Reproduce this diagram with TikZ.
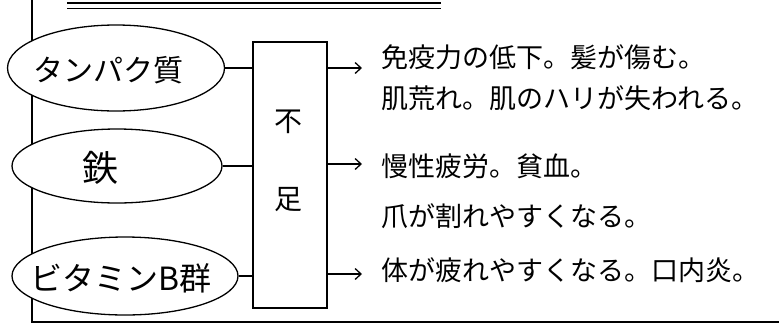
\documentclass[tikz,border=0pt]{standalone}
\usepackage{fontspec}
\newfontfamily\cjk{Noto Sans CJK JP}
\usetikzlibrary{shapes.geometric,arrows.meta}
\begin{document}
\begin{tikzpicture}[x=1pt,y=-1pt,
  line width=1.3pt,
  item/.style={draw,fill=white,ellipse,inner sep=0pt},
  lbl/.style={inner sep=0pt,font=\cjk\fontsize{30}{32}\selectfont},
  effect/.style={anchor=west,inner sep=0pt,font=\cjk\fontsize{27}{30}\selectfont},
  lack/.style={inner sep=0pt,font=\cjk\fontsize{28}{30}\selectfont},
  arr/.style={-{Straight Barb[length=6pt,width=11pt]}}]
\useasboundingbox (0,0) rectangle (779,325);
% frame
\draw[line width=1.8pt] (32,0) -- (32,322) -- (779,322);
\draw (67,3) -- (441,3);
\draw (67,8.5) -- (441,8.5);
% items
\node[item,minimum width=217pt,minimum height=86pt] (e1) at (116,68) {};
\node[lbl] (l1) at (108,70) {タンパク質};
\node[item,minimum width=210pt,minimum height=74pt] (e2) at (117,166) {};
\node[lbl,font=\cjk\fontsize{36}{38}\selectfont] (l2) at (100,168) {鉄};
\node[item,minimum width=226pt,minimum height=78pt] (e3) at (125,276) {};
\node[lbl,font=\cjk\fontsize{32}{34}\selectfont] (l3) at (121,278) {ビタミンB群};
% box
\node[draw,minimum width=74pt,minimum height=266pt,inner sep=0pt] (box) at (290,175) {};
\node[lack] (k1) at (288,122) {不};
\node[lack] (k2) at (288,200) {足};
% connectors
\draw (e1.east) -- (e1.east -| box.west);
\draw (e2.east) -- (e2.east -| box.west);
\draw (e3.east) -- (e3.east -| box.west);
\coordinate (a1) at (362,68);
\coordinate (a2) at (362,164);
\coordinate (a3) at (362,274);
\draw[arr] (box.east |- a1) -- (a1);
\draw[arr] (box.east |- a2) -- (a2);
\draw[arr] (box.east |- a3) -- (a3);
% effects
\node[effect] (t1) at (381,57) {免疫力の低下。髪が傷む。};
\node[effect] (t2) at (381,98) {肌荒れ。肌のハリが失われる。};
\node[effect] (t3) at (381,166) {慢性疲労。貧血。};
\node[effect] (t4) at (381,216) {爪が割れやすくなる。};
\node[effect] (t5) at (381,270) {体が疲れやすくなる。口内炎。};
\end{tikzpicture}
\end{document}
